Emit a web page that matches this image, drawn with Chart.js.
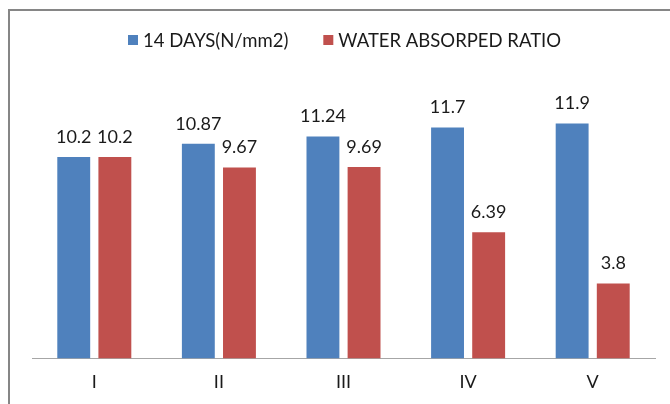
<!DOCTYPE html>
<html>
<head>
<meta charset="utf-8">
<script src="https://cdn.jsdelivr.net/npm/chart.js@4/dist/chart.umd.min.js"></script>
<style>
  html, body { margin: 0; padding: 0; background: #fff; overflow: hidden; }
  #wrap { position: relative; width: 670px; height: 404px; }
  #frame { position: absolute; left: 8px; top: 9px; width: 700px; height: 420px; border: 2px solid #868686; box-sizing: border-box; }
  canvas { position: absolute; left: 0; top: 0; }
</style>
</head>
<body>
<div id="wrap">
  <div id="frame"></div>
  <canvas id="chart" width="670" height="404"></canvas>
</div>
<script>
const categories = ['I', 'II', 'III', 'IV', 'V'];
const strength14 = [10.2, 10.87, 11.24, 11.7, 11.9];
const waterRatio = [10.2, 9.67, 9.69, 6.39, 3.8];
const seriesNames = ['14 DAYS(N/mm2)', 'WATER ABSORPED RATIO'];

const FONT = 'Lato, "Open Sans", sans-serif';
const TEXT = '#1a1a1a';

// valeurs au-dessus des barres
const valueLabels = {
  id: 'valueLabels',
  afterDatasetsDraw(chart) {
    const ctx = chart.ctx;
    ctx.save();
    ctx.font = '18px ' + FONT;
    ctx.fillStyle = TEXT;
    ctx.textAlign = 'center';
    ctx.textBaseline = 'alphabetic';
    chart.data.datasets.forEach((ds, i) => {
      chart.getDatasetMeta(i).data.forEach((bar, j) => {
        ctx.fillText(String(ds.data[j]), bar.x, bar.y - 14);
      });
    });
    ctx.restore();
  }
};

// légende dessinée à la main pour avoir l'espacement voulu
const topLegend = {
  id: 'topLegend',
  afterDraw(chart) {
    const ctx = chart.ctx;
    ctx.save();
    ctx.font = '18.5px ' + FONT;
    ctx.textBaseline = 'middle';
    const box = 10, gapText = 5, gapItem = 35;
    let x = 128;
    const y = 40;
    chart.data.datasets.forEach(ds => {
      const w = ctx.measureText(ds.label).width;
      ctx.fillStyle = ds.backgroundColor;
      ctx.fillRect(x, y - box / 2, box, box);
      ctx.fillStyle = TEXT;
      ctx.fillText(ds.label, x + box + gapText, y + 1);
      x += box + gapText + w + gapItem;
    });
    ctx.restore();
  }
};

new Chart(document.getElementById('chart'), {
  type: 'bar',
  data: {
    labels: categories,
    datasets: [
      { label: seriesNames[0], data: strength14, backgroundColor: '#4F81BD' },
      { label: seriesNames[1], data: waterRatio, backgroundColor: '#C0504D' }
    ]
  },
  options: {
    responsive: false,
    animation: false,
    events: [],
    layout: { padding: { left: 32, right: 15, top: 82, bottom: -2 } },
    categoryPercentage: 0.66,
    barPercentage: 0.8,
    plugins: { legend: { display: false }, tooltip: { enabled: false } },
    scales: {
      y: { display: false, min: 0, max: 14 },
      x: {
        grid: { display: false, drawTicks: false },
        border: { display: true, color: '#a6a6a6', width: 1 },
        ticks: { color: TEXT, font: { family: FONT, size: 18 }, padding: 13 }
      }
    }
  },
  plugins: [valueLabels, topLegend]
});
</script>
</body>
</html>
